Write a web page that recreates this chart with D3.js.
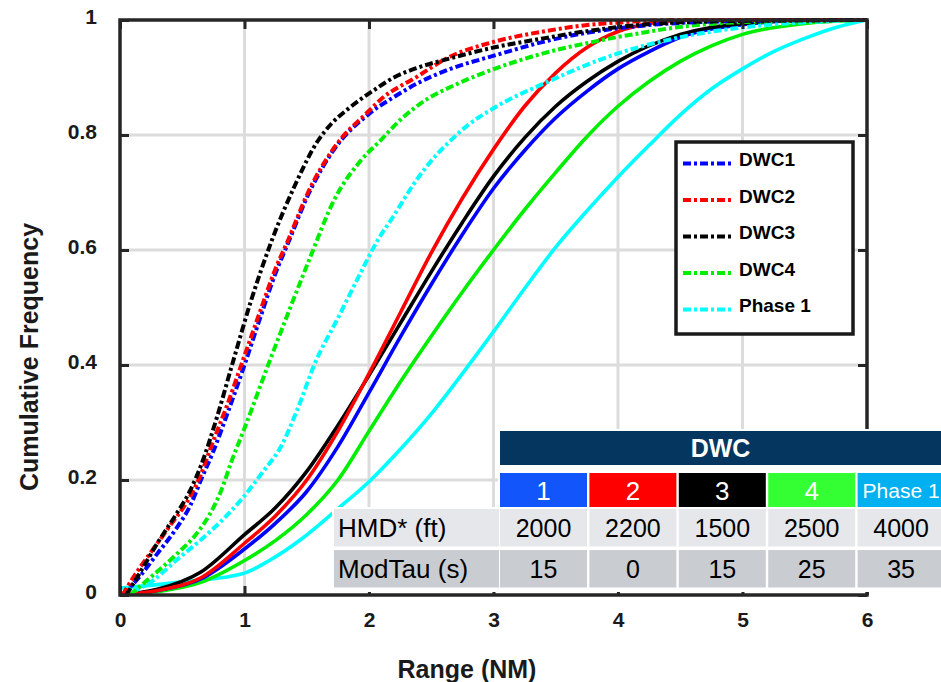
<!DOCTYPE html>
<html>
<head>
<meta charset="utf-8">
<script src="https://cdn.jsdelivr.net/npm/d3@7"></script>
<style>
  body { margin: 0; background: #fff; }
  svg { display: block; }
  text { font-family: "Liberation Sans", Arial, Helvetica, sans-serif; }
</style>
</head>
<body>
<svg id="chart" width="941" height="682"></svg>
<script>
// ---- data: cumulative frequency vs. range (NM) ----
const seriesNames = ["DWC1", "DWC2", "DWC3", "DWC4", "Phase 1"];

// dash-dot family
const dwc1DashDot = [[0.02,0],[0.15,0.03],[0.3,0.072],[0.45,0.115],[0.57,0.158],[0.65,0.2],[0.75,0.25],[0.87,0.32],[1.0,0.4],[1.12,0.478],[1.25,0.56],[1.35,0.612],[1.52,0.7],[1.72,0.775],[1.99,0.835],[2.2,0.866],[2.39,0.89],[2.63,0.913],[3.02,0.939],[3.4,0.962],[3.7,0.976],[4.1,0.988],[4.5,0.995],[5.2,0.999],[6,1]];
const dwc2DashDot = [[0.02,0],[0.12,0.035],[0.25,0.075],[0.4,0.12],[0.56,0.17],[0.65,0.21],[0.73,0.257],[0.86,0.33],[0.99,0.41],[1.12,0.49],[1.25,0.568],[1.35,0.617],[1.51,0.7],[1.72,0.778],[1.99,0.84],[2.09,0.861],[2.39,0.902],[2.63,0.934],[3.02,0.963],[3.4,0.98],[3.7,0.99],[4.1,0.997],[4.5,1],[6,1]];
const dwc3DashDot = [[0.05,0],[0.15,0.035],[0.3,0.09],[0.45,0.14],[0.56,0.18],[0.65,0.225],[0.78,0.31],[0.9,0.4],[1.05,0.51],[1.22,0.617],[1.4,0.71],[1.59,0.79],[1.7,0.82],[1.83,0.845],[2.04,0.878],[2.2,0.9],[2.39,0.917],[2.63,0.932],[3.02,0.953],[3.4,0.968],[3.7,0.979],[4.1,0.99],[4.5,0.996],[5.2,0.999],[6,1]];
const dwc4DashDot = [[0.08,0],[0.22,0.026],[0.45,0.07],[0.62,0.108],[0.72,0.14],[0.81,0.18],[0.9,0.235],[1.0,0.29],[1.19,0.4],[1.35,0.49],[1.52,0.583],[1.72,0.687],[1.94,0.757],[2.09,0.79],[2.25,0.826],[2.45,0.86],[2.7,0.888],[3.02,0.916],[3.4,0.942],[3.8,0.962],[4.2,0.978],[4.5,0.988],[5.08,0.997],[6,1]];
const phase1DashDot = [[0.1,0.005],[0.27,0.026],[0.45,0.06],[0.65,0.096],[0.82,0.13],[0.99,0.17],[1.15,0.215],[1.29,0.257],[1.42,0.32],[1.56,0.4],[1.77,0.49],[1.92,0.555],[2.07,0.617],[2.2,0.66],[2.36,0.715],[2.5,0.755],[2.63,0.785],[2.8,0.818],[3.02,0.849],[3.43,0.892],[3.96,0.939],[4.5,0.97],[5.04,0.988],[5.5,0.996],[6,1]];

// solid family
const dwc1Solid = [[0,0],[0.3,0.008],[0.65,0.028],[1.0,0.08],[1.25,0.125],[1.5,0.18],[1.75,0.258],[2.0,0.352],[2.25,0.448],[2.5,0.54],[2.75,0.627],[3.0,0.707],[3.25,0.773],[3.5,0.83],[3.75,0.876],[4.0,0.915],[4.25,0.945],[4.5,0.97],[5.0,0.992],[5.5,0.999],[6,1]];
const dwc2Solid = [[0,0],[0.3,0.008],[0.65,0.03],[1.0,0.09],[1.25,0.138],[1.5,0.2],[1.75,0.285],[2.0,0.385],[2.25,0.49],[2.5,0.595],[2.75,0.69],[3.0,0.775],[3.25,0.85],[3.5,0.908],[3.75,0.952],[4.0,0.98],[4.25,0.994],[4.5,0.999],[5,1],[6,1]];
const dwc3Solid = [[0,0],[0.3,0.01],[0.65,0.04],[1.0,0.105],[1.25,0.152],[1.5,0.215],[1.75,0.295],[2.0,0.382],[2.25,0.472],[2.5,0.562],[2.75,0.648],[3.0,0.728],[3.25,0.795],[3.5,0.85],[3.75,0.893],[4.0,0.928],[4.5,0.975],[5.0,0.994],[5.5,0.999],[6,1]];
const dwc4Solid = [[0,0],[0.3,0.006],[0.65,0.022],[1.0,0.06],[1.25,0.095],[1.5,0.14],[1.75,0.2],[2.0,0.285],[2.25,0.37],[2.5,0.45],[2.75,0.527],[3.0,0.6],[3.25,0.67],[3.5,0.735],[3.75,0.797],[4.0,0.85],[4.25,0.893],[4.5,0.928],[4.75,0.955],[5.0,0.975],[5.5,0.994],[6,1]];
const phase1Solid = [[0,0.012],[0.3,0.018],[0.6,0.025],[0.9,0.033],[1.0,0.038],[1.2,0.06],[1.45,0.096],[1.75,0.15],[2.0,0.197],[2.25,0.253],[2.5,0.315],[2.75,0.385],[3.0,0.458],[3.25,0.533],[3.5,0.605],[3.75,0.668],[4.0,0.727],[4.25,0.782],[4.5,0.835],[4.75,0.88],[5.0,0.915],[5.25,0.945],[5.5,0.968],[5.75,0.987],[6,1]];

const xTickValues = [0, 1, 2, 3, 4, 5, 6];
const yTickValues = [0, 0.2, 0.4, 0.6, 0.8, 1];
const yTickLabels = ["0", "0.2", "0.4", "0.6", "0.8", "1"];

// configuration table
const tableTitle = "DWC";
const tableColumns = ["1", "2", "3", "4", "Phase 1"];
const tableRowLabels = ["HMD* (ft)", "ModTau (s)"];
const hmdFt = [2000, 2200, 1500, 2500, 4000];
const modTauS = [15, 0, 15, 25, 35];

// ---- styles ----
const lineColors = ["#0000ff", "#ff0000", "#000000", "#00ee00", "#00ffff"];
const tableHeadColors = ["#1155fb", "#ff0000", "#000000", "#33ff33", "#00b0f0"];
const dashDotPattern = "8,3,3,3";

const svg = d3.select("#chart");
const x = d3.scaleLinear().domain([0, 6]).range([120, 867]);
const y = d3.scaleLinear().domain([0, 1]).range([595, 20]);

// grid
const grid = svg.append("g").attr("stroke", "#dcdcdc").attr("stroke-width", 3);
grid.selectAll("line.gx").data(xTickValues.slice(1, -1)).join("line")
  .attr("x1", d => x(d)).attr("x2", d => x(d)).attr("y1", y(0)).attr("y2", y(1));
grid.selectAll("line.gy").data(yTickValues.slice(1, -1)).join("line")
  .attr("y1", d => y(d)).attr("y2", d => y(d)).attr("x1", x(0)).attr("x2", x(6));

svg.append("clipPath").attr("id", "plotClip").append("rect")
  .attr("x", x(0)).attr("y", y(1) - 3).attr("width", x(6) - x(0)).attr("height", y(0) - y(1) + 3);

const line = d3.line().x(d => x(d[0])).y(d => y(d[1])).curve(d3.curveMonotoneX);
const curves = svg.append("g").attr("clip-path", "url(#plotClip)").attr("fill", "none");

const solidSeries = [dwc1Solid, dwc2Solid, dwc3Solid, dwc4Solid, phase1Solid];
const dashSeries = [dwc1DashDot, dwc2DashDot, dwc3DashDot, dwc4DashDot, phase1DashDot];

[4, 3, 0, 2, 1].forEach(i => {
  curves.append("path").datum(solidSeries[i]).attr("d", line)
    .attr("stroke", lineColors[i]).attr("stroke-width", 3.6).attr("stroke-linejoin", "round");
});
[4, 3, 0, 1, 2].forEach(i => {
  curves.append("path").datum(dashSeries[i]).attr("d", line)
    .attr("stroke", lineColors[i]).attr("stroke-width", 4).attr("stroke-dasharray", dashDotPattern);
});

// axes: ticks point inward on all four sides
const axisColor = "#262626";
function styleAxis(g) {
  g.select(".domain").remove();
  g.selectAll(".tick line").attr("stroke", axisColor).attr("stroke-width", 3);
}
const bottom = svg.append("g").attr("transform", `translate(0,${y(0)})`)
  .call(d3.axisBottom(x).tickValues(xTickValues).tickSize(-9).tickSizeOuter(0).tickFormat(d3.format("d")))
  .call(styleAxis);
bottom.selectAll(".tick text").attr("y", 32).attr("dy", 0)
  .attr("font-size", 21).attr("font-weight", "bold").attr("fill", "#1a1a1a");

const left = svg.append("g").attr("transform", `translate(${x(0)},0)`)
  .call(d3.axisLeft(y).tickValues(yTickValues).tickSize(-9).tickSizeOuter(0).tickPadding(23)
    .tickFormat((d, i) => yTickLabels[i]))
  .call(styleAxis);
left.selectAll(".tick text").attr("dy", 3)
  .attr("font-size", 21).attr("font-weight", "bold").attr("fill", "#1a1a1a");

svg.append("g").attr("transform", `translate(0,${y(1)})`)
  .call(d3.axisTop(x).tickValues(xTickValues).tickSize(-9).tickSizeOuter(0).tickFormat(""))
  .call(styleAxis);
svg.append("g").attr("transform", `translate(${x(6)},0)`)
  .call(d3.axisRight(y).tickValues(yTickValues).tickSize(-9).tickSizeOuter(0).tickFormat(""))
  .call(styleAxis);

svg.append("rect")
  .attr("x", x(0)).attr("y", y(1)).attr("width", x(6) - x(0)).attr("height", y(0) - y(1))
  .attr("fill", "none").attr("stroke", axisColor).attr("stroke-width", 3.5);

// axis titles
svg.append("text").attr("x", 467).attr("y", 678).attr("text-anchor", "middle")
  .attr("font-size", 25).attr("font-weight", "bold").attr("fill", "#1a1a1a").text("Range (NM)");
svg.append("text").attr("transform", "translate(38,357) rotate(-90)").attr("text-anchor", "middle")
  .attr("font-size", 25).attr("font-weight", "bold").attr("fill", "#1a1a1a").text("Cumulative Frequency");

// legend
const legend = svg.append("g");
legend.append("rect").attr("x", 676).attr("y", 142).attr("width", 177).attr("height", 192)
  .attr("fill", "#fff").attr("stroke", "#1a1a1a").attr("stroke-width", 3.5);
seriesNames.forEach((name, i) => {
  const by = 166 + i * 36.5;
  legend.append("line").attr("x1", 683).attr("x2", 733).attr("y1", by - 2.5).attr("y2", by - 2.5)
    .attr("stroke", lineColors[i]).attr("stroke-width", 4).attr("stroke-dasharray", dashDotPattern);
  legend.append("text").attr("x", 739).attr("y", by).attr("font-size", 19).attr("font-weight", "bold")
    .attr("fill", "#000").text(name);
});

// configuration table
const tbl = svg.append("g");
const colX0 = 500, colStep = 89.4, colW = 87;
const labelX = 334, labelW = 165;
const headY = 431, headH = 34, colorY = 473, colorH = 34, rowY = [509, 550], rowH = 37.5;
tbl.append("rect").attr("x", colX0 - 2).attr("y", headY - 2).attr("width", 941 - colX0 + 2).attr("height", rowY[0] - headY + 2).attr("fill", "#fff");
tbl.append("rect").attr("x", labelX - 2).attr("y", rowY[0] - 2).attr("width", 941 - labelX + 2).attr("height", 592 - rowY[0] + 2).attr("fill", "#fff");

tbl.append("rect").attr("x", colX0).attr("y", headY).attr("width", 941 - colX0).attr("height", headH).attr("fill", "#04365f");
tbl.append("text").attr("x", (colX0 + 941) / 2).attr("y", headY + headH / 2 + 9).attr("text-anchor", "middle")
  .attr("font-size", 25).attr("font-weight", "bold").attr("fill", "#fff").text(tableTitle);

const rowValues = [hmdFt, modTauS];
const rowFills = ["#e6e7eb", "#c9ccd1"];
tableColumns.forEach((c, j) => {
  const cx = colX0 + j * colStep;
  tbl.append("rect").attr("x", cx).attr("y", colorY).attr("width", colW).attr("height", colorH).attr("fill", tableHeadColors[j]);
  const small = c.length > 2;
  tbl.append("text").attr("x", cx + colW / 2).attr("y", colorY + colorH / 2 + (small ? 7.5 : 9.5)).attr("text-anchor", "middle")
    .attr("font-size", small ? 21 : 26).attr("fill", "#fff").text(c);
  rowValues.forEach((vals, r) => {
    tbl.append("rect").attr("x", cx).attr("y", rowY[r]).attr("width", colW).attr("height", rowH).attr("fill", rowFills[r]);
    tbl.append("text").attr("x", cx + colW / 2).attr("y", rowY[r] + rowH / 2 + 9).attr("text-anchor", "middle")
      .attr("font-size", 25).attr("fill", "#000").text(vals[j]);
  });
});
tableRowLabels.forEach((lab, r) => {
  tbl.append("rect").attr("x", labelX).attr("y", rowY[r]).attr("width", labelW).attr("height", rowH).attr("fill", rowFills[r]);
  tbl.append("text").attr("x", labelX + 4).attr("y", rowY[r] + rowH / 2 + 9)
    .attr("font-size", 26).attr("fill", "#000").text(lab);
});
</script>
</body>
</html>
